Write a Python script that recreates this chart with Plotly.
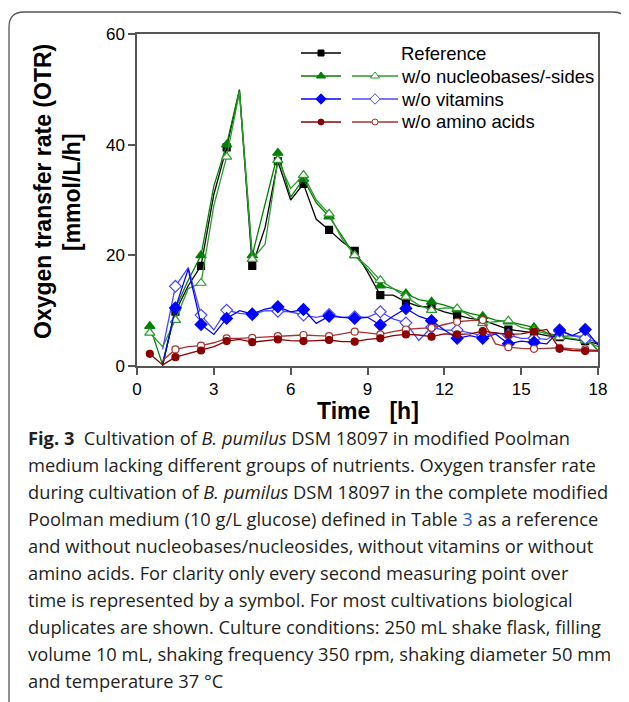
import plotly.graph_objects as go

# ---------------- data ----------------
time_h = [0.5, 1.0, 1.5, 2.0, 2.5, 3.0, 3.5, 4.0, 4.5, 5.0, 5.5, 6.0,
          6.5, 7.0, 7.5, 8.0, 8.5, 9.0, 9.5, 10.0, 10.5, 11.0, 11.5, 12.0,
          12.5, 13.0, 13.5, 14.0, 14.5, 15.0, 15.5, 16.0, 16.5, 17.0, 17.5, 18.0]

otr_reference = [None, 0.5, 9.8, 14.5, 18.1, 31.0, 39.5, 49.8, 18.1, 25.0, 37.0, 30.0,
                 32.9, 26.5, 24.6, 22.5, 20.8, 17.0, 12.8, 12.8, 11.6, 10.8, 10.6, 9.8,
                 9.2, 8.6, 8.3, 7.5, 6.6, 6.3, 6.0, 5.5, 5.2, 4.8, 4.5, 4.0]

otr_nucleo_1 = [7.2, 0.2, 10.4, 15.5, 20.0, 32.5, 40.0, 50.0, 20.0, 29.0, 38.5, 30.5,
                33.8, 29.5, 27.0, 23.5, 20.0, 17.5, 14.5, 14.0, 13.1, 12.0, 11.6, 11.0,
                10.2, 9.5, 9.0, 8.3, 8.0, 7.5, 7.0, 6.0, 5.3, 5.5, 5.3, 2.8]

otr_nucleo_2 = [6.0, 3.5, 8.3, 14.0, 15.0, 29.0, 37.8, 49.5, 19.3, 22.0, 37.2, 32.1,
                34.5, 30.0, 27.5, 23.0, 20.0, 18.0, 15.5, 14.0, 12.5, 11.0, 10.1, 10.5,
                10.4, 9.0, 7.7, 8.0, 8.2, 7.0, 6.5, 5.8, 5.2, 5.0, 4.6, 3.5]

otr_vitamin_1 = [None, 0.0, 10.5, 17.5, 7.5, 5.7, 8.6, 10.0, 9.4, 10.3, 10.7, 9.8,
                 10.2, 7.7, 9.0, 8.8, 8.6, 8.8, 7.4, 9.0, 10.4, 9.0, 8.2, 6.5,
                 5.0, 5.5, 5.0, 5.8, 4.0, 4.5, 4.3, 4.0, 6.5, 5.5, 6.6, 3.8]

otr_vitamin_2 = [None, 3.0, 14.4, 17.8, 9.2, 6.5, 10.1, 9.5, 9.3, 10.0, 9.9, 9.8,
                 9.2, 8.8, 9.3, 8.8, 8.9, 8.8, 9.8, 8.5, 7.8, 4.6, 7.0, 6.5,
                 6.5, 6.0, 5.5, 6.0, 5.6, 5.0, 5.0, 4.8, 6.3, 5.5, 5.0, 4.2]

otr_amino_1 = [2.2, 0.2, 1.6, 2.2, 2.8, 3.5, 4.5, 4.8, 4.3, 4.6, 4.8, 4.6,
               4.5, 4.6, 4.7, 4.4, 4.4, 4.8, 5.0, 5.5, 5.7, 5.6, 5.3, 5.8,
               5.7, 5.8, 6.3, 6.0, 5.7, 5.8, 6.2, 6.6, 3.1, 2.8, 2.7, 2.7]

otr_amino_2 = [None, 1.0, 3.0, 3.5, 3.7, 4.2, 5.0, 5.0, 5.1, 5.2, 5.4, 5.4,
               5.6, 5.5, 5.4, 5.8, 6.2, 6.0, 5.7, 6.2, 6.6, 6.8, 6.9, 7.5,
               8.0, 8.2, 8.3, 4.0, 3.4, 3.2, 3.1, 3.2, 3.3, 3.1, 3.0, 2.8]

legend_labels = ["Reference", "w/o nucleobases/-sides", "w/o vitamins", "w/o amino acids"]

x_ticks = [0, 3, 6, 9, 12, 15, 18]
y_ticks = [0, 20, 40, 60]

caption_lines = [
    "<b>Fig. 3</b>  Cultivation of <i>B. pumilus</i> DSM 18097 in modified Poolman",
    "medium lacking different groups of nutrients. Oxygen transfer rate",
    "during cultivation of <i>B. pumilus</i> DSM 18097 in the complete modified",
    "Poolman medium (10 g/L glucose) defined in Table <span style='color:#2f5fd0'>3</span> as a reference",
    "and without nucleobases/nucleosides, without vitamins or without",
    "amino acids. For clarity only every second measuring point over",
    "time is represented by a symbol. For most cultivations biological",
    "duplicates are shown. Culture conditions: 250 mL shake flask, filling",
    "volume 10 mL, shaking frequency 350 rpm, shaking diameter 50 mm",
    "and temperature 37 °C",
]

# ---------------- geometry (page pixels; page body has an 8px margin) ----------------
OFF = 8
W, H = 629 - OFF, 702 - OFF
L, R, T, B = 137 - OFF, 598 - OFF, 34 - OFF, 366 - OFF
PW, PH = R - L, B - T


def px(x):
    return (x - OFF - L) / PW


def py(y):
    return (B - (y - OFF)) / PH


series = [
    # values, color, symbol, filled, size
    (otr_reference, "#000000", "square", True, 7),
    (otr_nucleo_1, "#008000", "triangle-up", True, 9),
    (otr_nucleo_2, "#2e9a2e", "triangle-up", False, 9),
    (otr_vitamin_2, "#4848ff", "diamond", False, 9),
    (otr_vitamin_1, "#0000ff", "diamond", True, 9),
    (otr_amino_2, "#a83232", "circle", False, 7),
    (otr_amino_1, "#8b0000", "circle", True, 7),
]

fig = go.Figure()

for vals, col, sym, filled, size in series:
    xs = [t for t, v in zip(time_h, vals) if v is not None]
    ys = [v for v in vals if v is not None]
    fig.add_trace(go.Scatter(x=xs, y=ys, mode="lines",
                             line=dict(color=col, width=1.3),
                             showlegend=False, hoverinfo="skip"))
    mx = [t for t, v in zip(time_h, vals) if v is not None and (t % 1) == 0.5]
    my = [v for t, v in zip(time_h, vals) if v is not None and (t % 1) == 0.5]
    fig.add_trace(go.Scatter(x=mx, y=my, mode="markers",
                             marker=dict(symbol=sym, size=size, color=col if filled else "white",
                                         line=dict(color=col, width=1.2)),
                             showlegend=False, hoverinfo="skip"))

# ---------------- custom legend (overlay axes 0..1 = plot area) ----------------
legend_rows = [53, 76, 99, 122]
legend_styles = [
    [("#000000", "square", True, 6)],
    [("#008000", "triangle-up", True, 8), ("#2e9a2e", "triangle-up", False, 8)],
    [("#0000ff", "diamond", True, 8), ("#4848ff", "diamond", False, 8)],
    [("#8b0000", "circle", True, 6), ("#a83232", "circle", False, 6)],
]
samples_x = [(301, 341, 321), (352, 398, 375)]
for row_y, styles, label in zip(legend_rows, legend_styles, legend_labels):
    for (x0, x1, xm), (col, sym, filled, msize) in zip(samples_x, styles):
        fig.add_trace(go.Scatter(x=[px(x0), px(x1)], y=[py(row_y)] * 2, mode="lines",
                                 line=dict(color=col, width=1.3), xaxis="x2", yaxis="y2",
                                 showlegend=False, hoverinfo="skip"))
        fig.add_trace(go.Scatter(x=[px(xm)], y=[py(row_y)], mode="markers",
                                 marker=dict(symbol=sym, size=msize,
                                             color=col if filled else "white",
                                             line=dict(color=col, width=1)),
                                 xaxis="x2", yaxis="y2", showlegend=False, hoverinfo="skip"))
    fig.add_annotation(x=px(399), y=py(row_y), xref="paper", yref="paper",
                       text=label, showarrow=False, xanchor="left", yanchor="middle",
                       font=dict(family="Liberation Sans, Arial", size=18.5, color="#000"))

axis_common = dict(showline=True, linecolor="#555555", linewidth=1.5, mirror=True,
                   ticks="outside", ticklen=7, tickwidth=1.5, tickcolor="#555555",
                   showgrid=False, zeroline=False,
                   tickfont=dict(family="Liberation Sans, Arial", size=17, color="#000"))

fig.update_layout(
    width=W, height=H,
    margin=dict(l=L, r=W - R, t=T, b=H - B),
    paper_bgcolor="white", plot_bgcolor="white",
    xaxis=dict(range=[0, 18], tickvals=x_ticks, **axis_common),
    yaxis=dict(range=[0, 60], tickvals=y_ticks, **axis_common),
    xaxis2=dict(range=[0, 1], overlaying="x", visible=False, fixedrange=True),
    yaxis2=dict(range=[0, 1], overlaying="y", visible=False, fixedrange=True),
    showlegend=False,
)

# axis titles
fig.add_annotation(x=px(368), y=py(411), xref="paper", yref="paper",
                   text="<b>Time   [h]</b>", showarrow=False, xanchor="center", yanchor="middle",
                   font=dict(family="Liberation Sans, Arial", size=23, color="#000"))
fig.add_annotation(x=px(43), y=py(192), xref="paper", yref="paper",
                   text="<b>Oxygen transfer rate (OTR)</b>", showarrow=False, textangle=-90,
                   xanchor="center", yanchor="middle",
                   font=dict(family="Liberation Sans, Arial", size=23, color="#000"))
fig.add_annotation(x=px(72), y=py(192), xref="paper", yref="paper",
                   text="<b>[mmol/L/h]</b>", showarrow=False, textangle=-90,
                   xanchor="center", yanchor="middle",
                   font=dict(family="Liberation Sans, Arial", size=23, color="#000"))

# caption
cap_y0, cap_dy = 437, 27
for i, line in enumerate(caption_lines):
    fig.add_annotation(x=px(26), y=py(cap_y0 + i * cap_dy), xref="paper", yref="paper",
                       text=line, showarrow=False, xanchor="left", yanchor="middle",
                       font=dict(family="Open Sans", size=18.3, color="#231f20"))

# frame around figure
fx0, fy0, fx1, rr = 9, 12, 628, 15
ybot = 720
path = (f"M {px(fx0)},{py(ybot)} L {px(fx0)},{py(fy0 + rr)} "
        f"Q {px(fx0)},{py(fy0)} {px(fx0 + rr)},{py(fy0)} "
        f"L {px(fx1 - rr)},{py(fy0)} Q {px(fx1)},{py(fy0)} {px(fx1)},{py(fy0 + rr)} "
        f"L {px(fx1)},{py(ybot)}")
fig.add_shape(type="path", path=path, xref="paper", yref="paper",
              line=dict(color="#555555", width=1.3))

fig.write_html("out.html")
